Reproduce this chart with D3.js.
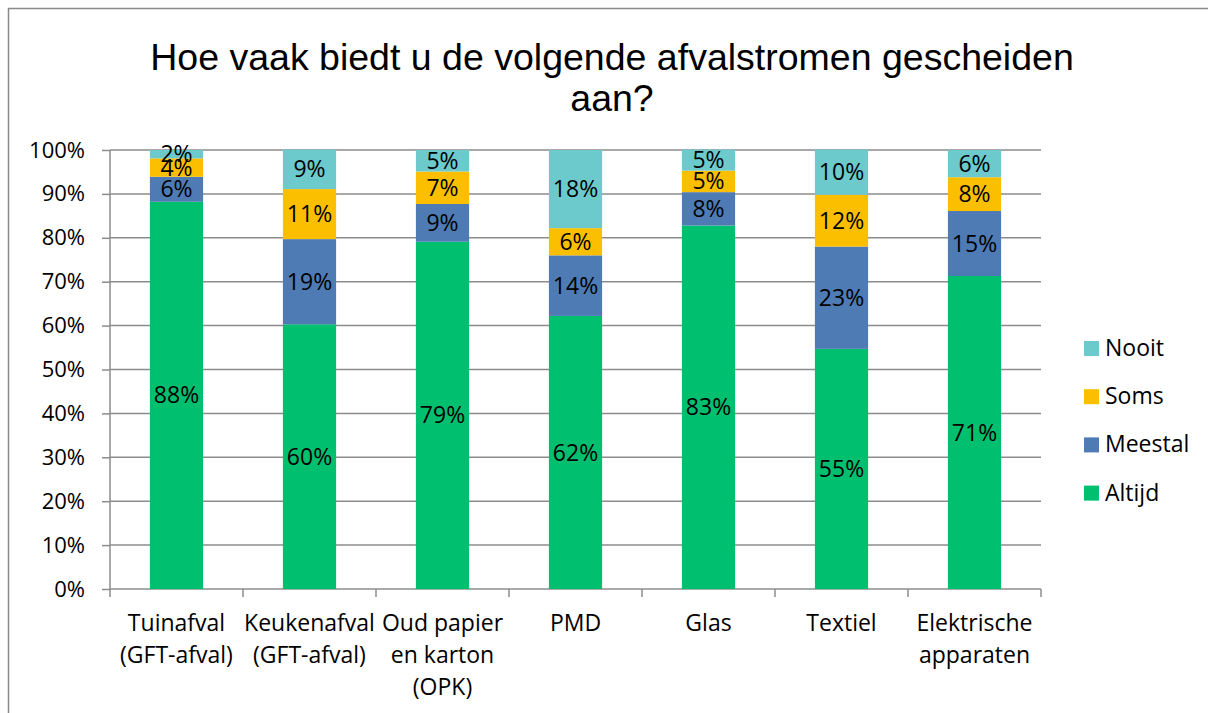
<!DOCTYPE html>
<html>
<head>
<meta charset="utf-8">
<style>
    body { margin: 0; background: #fff; }
    svg { display: block; }
    .tick text, .cat, .val, .leg { font-family: "Open Sans", Lato, sans-serif; fill: #000; }
    #title { font-family: "Liberation Sans", Arial, sans-serif; }
</style>
<title>Afvalstromen</title>
</head>
<body>
<svg id="graph"></svg>
<script src="https://cdn.jsdelivr.net/npm/d3@7"></script>
<script>
// Data (percentages)
var categories = [
    ['Tuinafval', '(GFT-afval)'],
    ['Keukenafval', '(GFT-afval)'],
    ['Oud papier', 'en karton', '(OPK)'],
    ['PMD'],
    ['Glas'],
    ['Textiel'],
    ['Elektrische', 'apparaten']
];
var seriesNames = ['Altijd', 'Meestal', 'Soms', 'Nooit'];
var altijd  = [88.2, 60.3, 79.1, 62.2, 82.8, 54.7, 71.3];
var meestal = [5.7, 19.4, 8.6, 13.8, 7.6, 23.3, 14.8];
var soms    = [4.2, 11.4, 7.4, 6.2, 4.9, 11.8, 7.7];
var nooit   = [1.9, 9.0, 4.9, 17.8, 4.8, 10.3, 6.2];
var yTicks  = [0, 10, 20, 30, 40, 50, 60, 70, 80, 90, 100];
var colors  = ['#00bf6f', '#4f7bb5', '#fbbf00', '#6cc9cc'];

var W = 1208, H = 713;
var margin = { top: 150, left: 110, right: 167, bottom: 124 };
var width = W - margin.left - margin.right,
    height = H - margin.top - margin.bottom;

var svg = d3.select('#graph').attr('width', W).attr('height', H);

// outer chart border
svg.append('rect')
    .attr('x', 8.5).attr('y', 8.5)
    .attr('width', 1300).attr('height', 900)
    .attr('fill', 'none').attr('stroke', '#898989').attr('stroke-width', 1.5);

// title
svg.append('text').attr('id', 'title')
    .attr('text-anchor', 'middle')
    .attr('font-size', 37.5)
    .selectAll('tspan')
    .data(['Hoe vaak biedt u de volgende afvalstromen gescheiden', 'aan?'])
    .enter().append('tspan')
    .attr('x', 612)
    .attr('y', (d, i) => 70 + i * 41)
    .text(d => d);

var g = svg.append('g').attr('transform', 'translate(' + margin.left + ',' + margin.top + ')');

var idx = d3.range(categories.length);
var x = d3.scaleBand().domain(idx).range([0, width]).paddingInner(0.6).paddingOuter(0.3);
var xOuter = d3.scaleBand().domain(idx).range([0, width]);
var y = d3.scaleLinear().domain([0, 100]).range([height, 0]);

// gridlines
g.append('g').selectAll('line')
    .data(yTicks.slice(1))
    .enter().append('line')
    .attr('x1', 0).attr('x2', width)
    .attr('y1', d => y(d)).attr('y2', d => y(d))
    .attr('stroke', '#8c8c8c').attr('stroke-width', 1.5);

// y axis
var yAxis = g.append('g')
    .call(d3.axisLeft(y).tickValues(yTicks).tickFormat(d => d + '%').tickSize(8).tickPadding(17));
yAxis.selectAll('line, path').attr('stroke', '#8c8c8c').attr('stroke-width', 1.5);
yAxis.select('.domain').attr('d', 'M0,' + height + 'V0');
yAxis.selectAll('text').attr('font-size', 22).attr('font-family', '"Open Sans", sans-serif');

// x axis (ticks at band boundaries)
var xAxis = g.append('g').attr('transform', 'translate(0,' + height + ')');
xAxis.append('line').attr('x1', 0).attr('x2', width)
    .attr('stroke', '#8c8c8c').attr('stroke-width', 1.5);
xAxis.selectAll('.xt')
    .data(idx.concat([categories.length]))
    .enter().append('line').attr('class', 'xt')
    .attr('x1', d => d < categories.length ? xOuter(d) : width)
    .attr('x2', d => d < categories.length ? xOuter(d) : width)
    .attr('y1', 0).attr('y2', 8)
    .attr('stroke', '#8c8c8c').attr('stroke-width', 1.5);

// category labels
var catText = xAxis.selectAll('.cat')
    .data(categories)
    .enter().append('text').attr('class', 'cat')
    .attr('text-anchor', 'middle')
    .attr('font-size', 23);
catText.selectAll('tspan')
    .data((d, i) => d.map(t => ({ t: t, i: i })))
    .enter().append('tspan')
    .attr('x', d => xOuter(d.i) + xOuter.bandwidth() / 2)
    .attr('y', (d, j) => 42 + j * 32)
    .text(d => d.t);

// stacked bars
var table = idx.map(i => ({ i: i, Altijd: altijd[i], Meestal: meestal[i], Soms: soms[i], Nooit: nooit[i] }));
var stack = d3.stack().keys(seriesNames)(table);

var layers = g.selectAll('.layer')
    .data(stack)
    .enter().append('g').attr('class', 'layer')
    .attr('fill', (d, k) => colors[k]);

layers.selectAll('rect')
    .data(d => d)
    .enter().append('rect')
    .attr('x', d => x(d.data.i))
    .attr('y', d => y(d[1]))
    .attr('width', x.bandwidth())
    .attr('height', d => y(d[0]) - y(d[1]));

// data labels
layers.selectAll('.val')
    .data(d => d)
    .enter().append('text').attr('class', 'val')
    .attr('text-anchor', 'middle')
    .attr('font-size', 23)
    .attr('dy', '0.35em')
    .attr('x', d => x(d.data.i) + x.bandwidth() / 2)
    .attr('y', d => y((d[0] + d[1]) / 2))
    .text(d => Math.round(d[1] - d[0]) + '%');

// legend
var legend = svg.append('g').attr('transform', 'translate(1084,348)');
var legItems = legend.selectAll('g')
    .data(seriesNames.slice().reverse())
    .enter().append('g')
    .attr('transform', (d, i) => 'translate(0,' + i * 48.2 + ')');
legItems.append('rect')
    .attr('x', 0).attr('y', -7).attr('width', 15).attr('height', 15)
    .attr('fill', d => colors[seriesNames.indexOf(d)]);
legItems.append('text').attr('class', 'leg')
    .attr('x', 21).attr('dy', '0.35em')
    .attr('font-size', 23)
    .text(d => d);
</script>
</body>
</html>
